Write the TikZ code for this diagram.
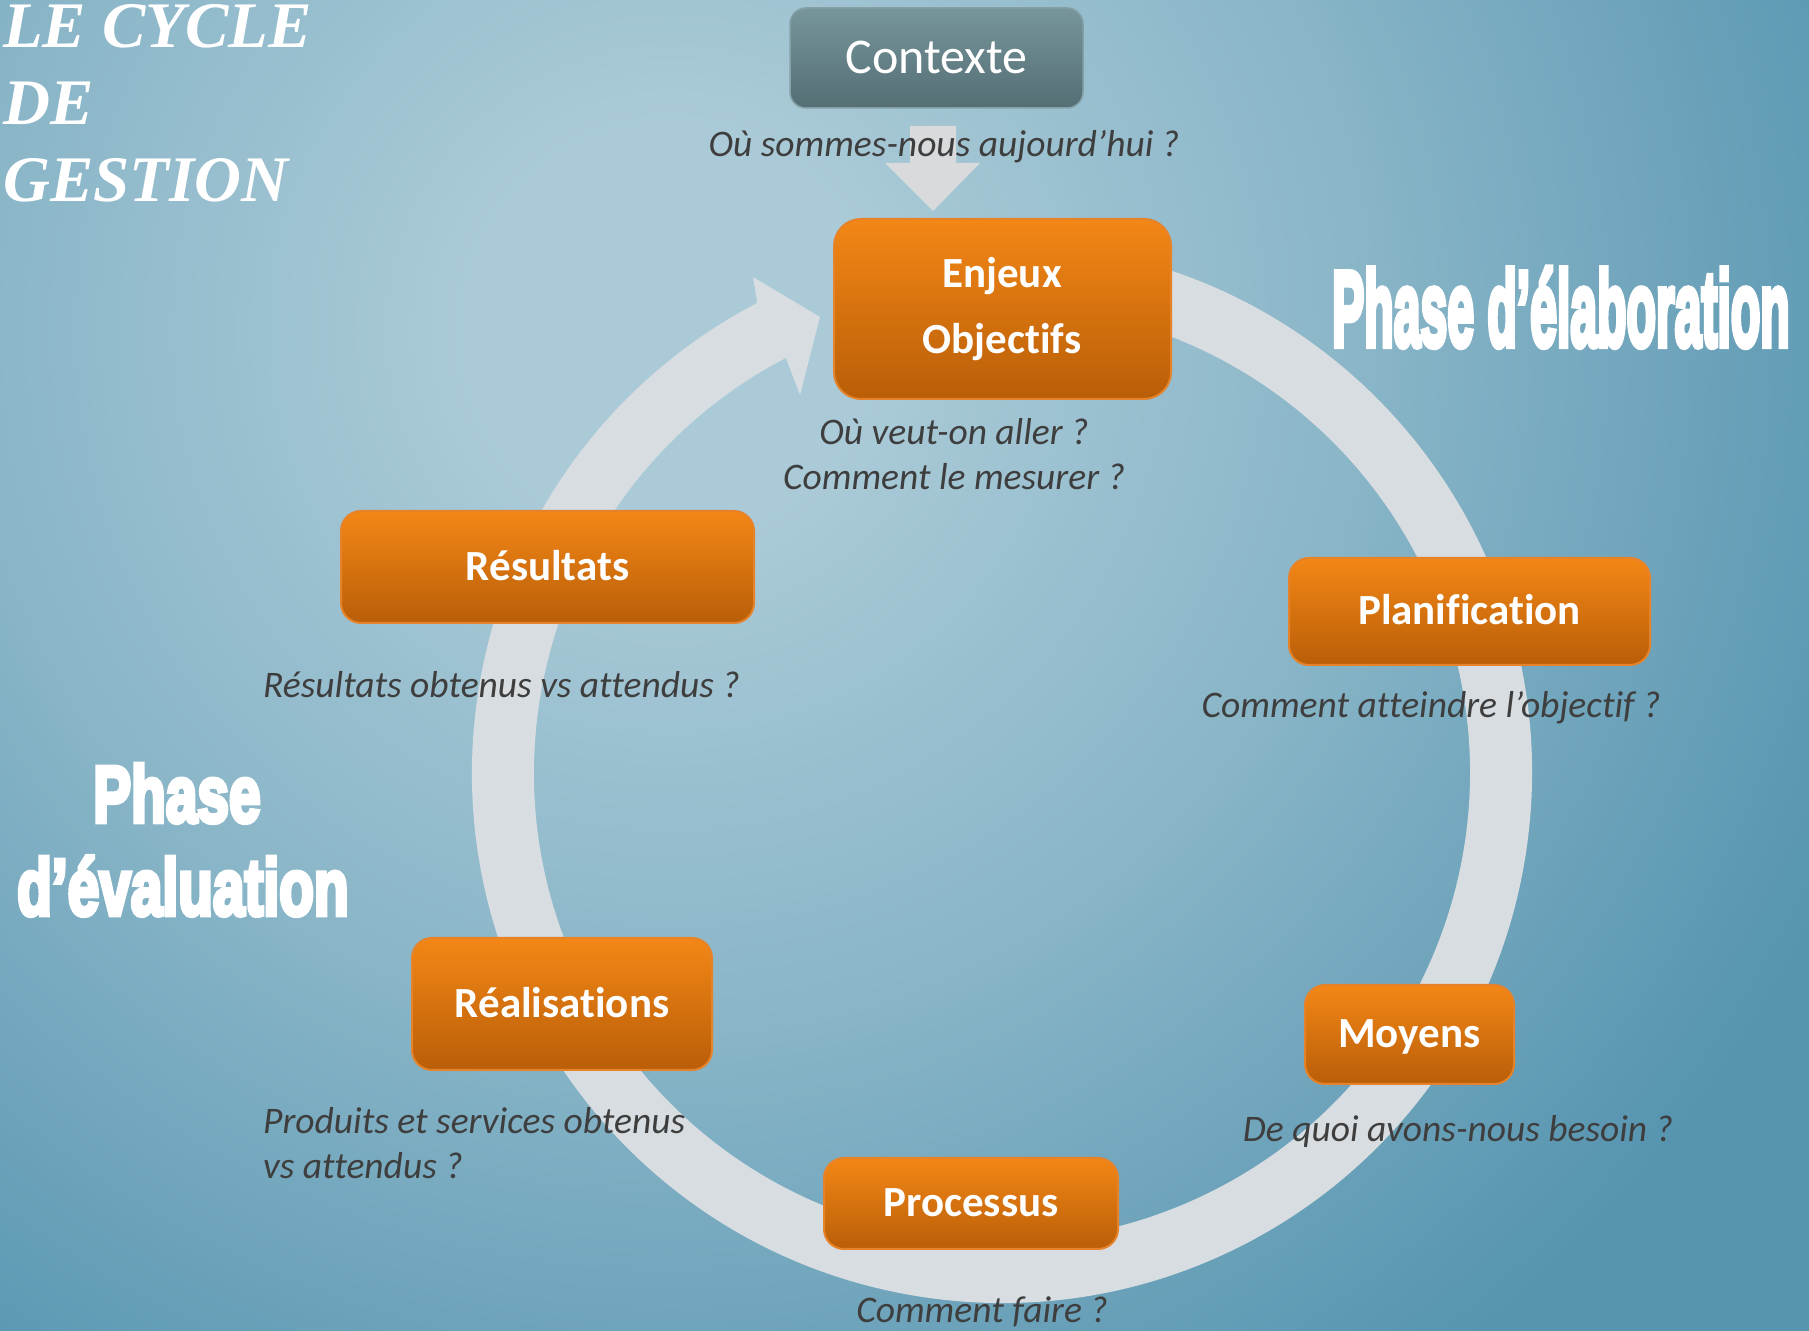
\documentclass[tikz,border=0pt]{standalone}
\usepackage{fontspec}
\usepackage{graphicx}
\setmainfont{Carlito}[Ligatures=CommonOff]
\newfontfamily\titlefont{Liberation Serif}
\newfontfamily\impactfont{Liberation Sans}[BoldFeatures={FakeBold=6}]
\definecolor{bgA}{RGB}{170,202,215}
\definecolor{bgM}{RGB}{138,182,200}
\definecolor{bgB}{RGB}{86,148,176}
\definecolor{ringc}{RGB}{215,221,224}
\definecolor{darrow}{RGB}{216,218,220}
\definecolor{orTop}{RGB}{243,135,22}
\definecolor{orBot}{RGB}{185,94,8}
\definecolor{orBorder}{RGB}{230,130,42}
\definecolor{ctxTop}{RGB}{118,150,156}
\definecolor{ctxBot}{RGB}{84,110,116}
\definecolor{ctxBorder}{RGB}{132,160,166}
\definecolor{qtext}{RGB}{62,62,62}
\pgfdeclareradialshading{bgshade}{\pgfpoint{0bp}{0bp}}{color(0bp)=(bgA); color(3bp)=(bgA); color(10bp)=(bgM); color(19bp)=(bgB); color(50bp)=(bgB)}
\tikzset{
  obox/.style={draw=orBorder, line width=2pt, top color=orTop, bottom color=orBot,
    rounded corners=20pt, text=white, font=\fontsize{43}{43}\selectfont\bfseries,
    text height=27pt, text depth=0pt, inner sep=0pt},
  ctxbox/.style={draw=ctxBorder, line width=1.5pt, top color=ctxTop, bottom color=ctxBot,
    rounded corners=16pt, text=white, font=\fontsize{50}{50}\selectfont,
    text height=31.5pt, text depth=0pt, inner sep=0pt},
  btxt/.style={text=white, font=\fontsize{43}{43}\selectfont\bfseries, inner sep=0pt},
  qtxt/.style={text=qtext, font=\fontsize{37.5}{37.5}\selectfont\itshape, inner sep=0pt},
  ttl/.style={text=white, font=\titlefont\fontsize{65}{65}\selectfont\bfseries\itshape, inner sep=0pt, anchor=base west},
  phase/.style={text=white, font=\impactfont\fontsize{80}{80}\selectfont\bfseries, inner sep=0pt, anchor=base west},
  phasebig/.style={text=white, font=\impactfont\fontsize{107}{107}\selectfont\bfseries, inner sep=0pt, anchor=base west},
}
\begin{document}
\begin{tikzpicture}[x=1pt,y=1pt]
\useasboundingbox (0,0) rectangle (1809,1330);
% background
\begin{scope}
\clip (0,0) rectangle (1809,1330);
\shade[shading=bgshade] (670,1000) circle (1700);
\end{scope}
% circular arrow
\begin{scope}[shift={(1002,557)}]
\fill[ringc] (80:530) arc[start angle=80, end angle=-242.5, radius=530]
  -- (-249,496) -- (-182,456) -- (-202,378)
  -- (-242.5:468) arc[start angle=-242.5, end angle=80, radius=468] -- cycle;
\end{scope}
% title
\node[ttl] (t1) at (3,1282) {LE CYCLE};
\node[ttl] (t2) at (3,1205) {DE};
\node[ttl] (t3) at (3,1128) {GESTION};
% context box and arrow
\node[ctxbox, minimum width=293pt, minimum height=100pt] (ctx) at (936.5,1272) {Contexte};
\coordinate (aTL) at (910,1204);
\coordinate (aTR) at (956,1204);
\coordinate (aTip) at (933,1119);
\fill[darrow] (aTL) -- (aTR) -- (956,1167) -- (980,1167) -- (aTip) -- (885,1167) -- (910,1167) -- cycle;
\node[qtxt, anchor=base] (q0) at (944,1173) {Où sommes-nous aujourd’hui ?};
% enjeux
\node[obox, rounded corners=27pt, minimum width=337pt, minimum height=180pt] (enjeux) at (1002.5,1021) {};
\node[btxt, anchor=base] (enjeuxA) at (1002,1042) {Enjeux};
\node[btxt, anchor=base] (enjeuxB) at (1002,976) {Objectifs};
\node[qtxt, anchor=base] (q1a) at (954,885) {Où veut-on aller ?};
\node[qtxt, anchor=base] (q1b) at (954,840) {Comment le mesurer ?};
% other boxes
\node[obox, minimum width=413pt, minimum height=112pt] (res) at (547.5,763) {Résultats};
\node[qtxt, anchor=base west] (q5) at (263,632) {Résultats obtenus vs attendus ?};
\node[obox, minimum width=361pt, minimum height=107pt] (plan) at (1469.5,718.5) {Planification};
\node[qtxt, anchor=base] (q2) at (1431,612) {Comment atteindre l’objectif ?};
\node[obox, minimum width=209pt, minimum height=99pt] (moy) at (1409.5,295.5) {Moyens};
\node[qtxt, anchor=base] (q3) at (1458,188) {De quoi avons-nous besoin ?};
\node[obox, minimum width=294pt, minimum height=91pt] (proc) at (971,126.5) {Processus};
\node[qtxt, anchor=base] (q4) at (982,8) {Comment faire ?};
\node[obox, minimum width=300pt, minimum height=132pt] (real) at (562,326) {Réalisations};
\node[qtxt, anchor=base west] (q6a) at (263,196) {Produits et services obtenus};
\node[qtxt, anchor=base west] (q6b) at (263,151) {vs attendus ?};
% phases
\node[phasebig] (pElab) at (1332,984) {\scalebox{0.45}[1]{Phase d’élaboration}};
\node[phase] (pEval1) at (93,508) {\scalebox{0.71}[1]{Phase}};
\node[phase] (pEval2) at (17,415) {\scalebox{0.71}[1]{d’évaluation}};
\end{tikzpicture}
\end{document}
